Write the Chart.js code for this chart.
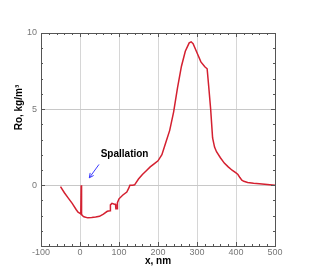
<!DOCTYPE html>
<html>
<head>
<meta charset="utf-8">
<script src="https://cdn.jsdelivr.net/npm/chart.js@4"></script>
<style>
  html, body { margin: 0; padding: 0; background: #fff; }
  #wrap { width: 312px; height: 277px; }
</style>
</head>
<body>
<div id="wrap"><canvas id="myChart"></canvas></div>
<script>
// x in nm, Ro in kg/m^3
var xNm = [-50, -40, -30, -20, -10, -5, 0, 2, 3, 4, 6, 10, 20, 30, 40, 50, 60, 70, 77, 78, 82, 88, 91, 92, 95, 96,
    100, 110, 120, 125, 128, 135, 140, 150, 160, 170, 180, 190, 200, 210, 220, 230, 240, 250, 260, 270, 280, 285,
    290, 300, 310, 320, 326, 330, 335, 340, 345, 350, 360, 370, 380, 390, 400, 405, 410, 415, 420, 430, 445, 460, 480, 500];
var roValues = [-0.1, -0.5, -0.85, -1.2, -1.6, -1.78, -1.85, -1.9, 0, -1.9, -2.0, -2.08, -2.15, -2.13, -2.1, -2.05, -1.9, -1.72, -1.68, -1.3, -1.2, -1.25, -1.25, -1.55, -1.55, -1.15,
    -0.9, -0.65, -0.45, -0.2, 0, 0, 0.02, 0.4, 0.7, 0.95, 1.2, 1.4, 1.6, 2.0, 2.8, 3.6, 4.8, 6.4, 7.8, 8.8, 9.35, 9.42,
    9.3, 8.7, 8.1, 7.78, 7.65, 6.5, 5.0, 3.1, 2.5, 2.2, 1.8, 1.45, 1.2, 0.98, 0.8, 0.7, 0.5, 0.33, 0.25, 0.18, 0.12, 0.09, 0.05, 0];

var xTicks = [-100, 0, 100, 200, 300, 400, 500];
var yTicks = [0, 5, 10];
var yTitle = 'Ro, kg/m³';
var labelText = 'Spallation';
var labelAt = { x: 53, y: 2.04 };
var arrowFrom = { x: 48.7, y: 1.36 };
var arrowTo = { x: 23.8, y: 0.48 };

var points = xNm.map(function(x, i) { return { x: x, y: roValues[i] }; });

var framePlugin = {
    id: 'frame',
    afterDraw: function(chart) {
        var c = chart.ctx, a = chart.chartArea;
        var sx = chart.scales.x, sy = chart.scales.y;
        c.save();
        c.strokeStyle = '#555';
        c.lineWidth = 1;
        c.strokeRect(Math.round(a.left) + 0.5, Math.round(a.top) + 0.5, Math.round(a.right - a.left), Math.round(a.bottom - a.top));
        c.beginPath();
        for (var v = -100; v <= 500; v += 20) {
            var px = Math.round(sx.getPixelForValue(v)) + 0.5;
            var len = (v % 100 === 0) ? 4 : 2;
            c.moveTo(px, a.bottom); c.lineTo(px, a.bottom - len);
            c.moveTo(px, a.top); c.lineTo(px, a.top + len);
        }
        for (var w = -4; w <= 10; w += 1) {
            var py = Math.round(sy.getPixelForValue(w)) + 0.5;
            var l2 = (w % 5 === 0) ? 4 : 2;
            c.moveTo(a.left, py); c.lineTo(a.left + l2, py);
            c.moveTo(a.right, py); c.lineTo(a.right - l2, py);
        }
        c.stroke();

        // y axis title, sits a bit above the middle like the original
        c.fillStyle = '#000';
        c.font = 'bold 10px Arial, "Liberation Sans", sans-serif';
        c.textAlign = 'center';
        c.textBaseline = 'middle';
        c.save();
        c.translate(19, sy.getPixelForValue(5.1));
        c.rotate(-Math.PI / 2);
        c.fillText(yTitle, 0, 0);
        c.restore();

        // annotation
        c.textAlign = 'left';
        c.fillText(labelText, sx.getPixelForValue(labelAt.x), sy.getPixelForValue(labelAt.y));

        var x1 = sx.getPixelForValue(arrowFrom.x), y1 = sy.getPixelForValue(arrowFrom.y);
        var x2 = sx.getPixelForValue(arrowTo.x), y2 = sy.getPixelForValue(arrowTo.y);
        var ang = Math.atan2(y2 - y1, x2 - x1);
        c.strokeStyle = '#3a3aff';
        c.lineWidth = 1;
        c.beginPath();
        c.moveTo(x1, y1); c.lineTo(x2, y2);
        c.moveTo(x2 - 5 * Math.cos(ang - 0.45), y2 - 5 * Math.sin(ang - 0.45));
        c.lineTo(x2, y2);
        c.lineTo(x2 - 5 * Math.cos(ang + 0.45), y2 - 5 * Math.sin(ang + 0.45));
        c.stroke();
        c.restore();
    }
};

const ctx = document.getElementById('myChart').getContext('2d');
var myChart = new Chart(ctx, {
    type: 'scatter',
    data: {
        datasets: [{
            label: 'Ro',
            data: points,
            showLine: true,
            borderColor: '#d42030',
            backgroundColor: '#d42030',
            borderWidth: 1.5,
            pointRadius: 0,
            tension: 0
        }]
    },
    options: {
        responsive: true,
        maintainAspectRatio: false,
        animation: false,
        layout: { padding: { left: 0, top: 33, right: 37, bottom: 10 } },
        plugins: {
            legend: { display: false },
            tooltip: { enabled: false }
        },
        scales: {
            x: {
                type: 'linear',
                min: -100,
                max: 500,
                afterBuildTicks: function(s) { s.ticks = xTicks.map(function(v) { return { value: v }; }); },
                afterFit: function(s) { s.height = 21; },
                grid: {
                    color: '#d6d6d6',
                    drawTicks: false
                },
                border: { display: false },
                ticks: {
                    padding: 1,
                    color: '#777',
                    maxRotation: 0,
                    font: { family: 'Arial, "Liberation Sans", sans-serif', size: 9 }
                },
                title: {
                    display: true,
                    text: 'x, nm',
                    color: '#000',
                    padding: 0,
                    font: { family: 'Arial, "Liberation Sans", sans-serif', size: 10, weight: 'bold' }
                }
            },
            y: {
                type: 'linear',
                min: -4,
                max: 10,
                afterBuildTicks: function(s) { s.ticks = yTicks.map(function(v) { return { value: v }; }); },
                afterFit: function(s) { s.width = 41; },
                grid: {
                    color: '#c8c8c8',
                    drawTicks: false
                },
                border: { display: false },
                ticks: {
                    padding: 4,
                    color: '#777',
                    font: { family: 'Arial, "Liberation Sans", sans-serif', size: 9 }
                }
            }
        }
    },
    plugins: [framePlugin]
});
</script>
</body>
</html>
